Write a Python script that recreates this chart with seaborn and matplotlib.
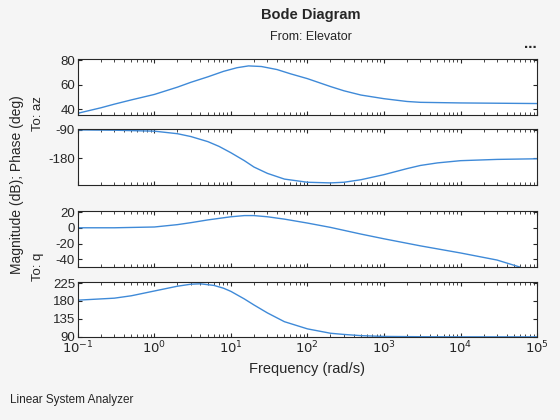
import matplotlib
matplotlib.use("Agg")
import matplotlib.pyplot as plt
import seaborn as sns
import pandas as pd
import numpy as np

sns.set_style("ticks")
plt.rcParams['font.family'] = ['Liberation Sans', 'DejaVu Sans']

w_az_mag = [0.1, 0.2, 0.3, 0.5, 1, 2, 3, 5, 8, 12, 17, 25, 40, 60, 100, 200, 300, 500, 1000, 2000, 3000, 1e4, 1e5]
az_mag = [36.5, 41, 44, 47.5, 52, 58, 62, 66.5, 71, 74, 75.5, 75, 72.5, 69, 65, 58.5, 55, 51.5, 48.5, 46.2, 45.5, 45, 44.5]
w_az_ph = [0.1, 0.3, 1, 2, 3, 5, 7, 10, 15, 20, 30, 50, 100, 200, 300, 500, 1000, 2000, 3000, 5000, 1e4, 3e4, 1e5]
az_ph = [-91, -92, -95, -103, -112, -128, -143, -163, -188, -208, -228, -246, -256, -258, -256, -248, -232, -213, -203, -195, -188, -184, -182]
w_q_mag = [0.1, 0.3, 1, 2, 3, 5, 10, 15, 20, 30, 50, 100, 200, 500, 1000, 3000, 1e4, 3e4, 6e4]
q_mag = [0, 0, 1, 4, 6.5, 10, 14, 15.5, 15.5, 14, 11, 6, 0.5, -8, -14, -23, -32, -41, -50]
w_q_ph = [0.1, 0.3, 0.5, 1, 2, 3, 4, 6, 8, 10, 15, 20, 30, 50, 100, 200, 300, 500, 1000, 3000, 1e4, 1e5]
q_ph = [182, 187, 193, 205, 217, 222, 223, 219, 212, 204, 185, 170, 150, 128, 110, 99, 96, 93, 91, 90.3, 90, 90]

bg = '#f5f5f5'
col = '#3f8ad8'
fig = plt.figure(figsize=(5.6, 4.2), dpi=100, facecolor=bg)
L, W = 0.139, 0.82
specs = [
    (0.726, 0.133, w_az_mag, az_mag, (35, 81), [40, 60, 80], ['40', '60', '80']),
    (0.560, 0.133, w_az_ph, az_ph, (-264, -88), [-180, -90], ['-180', '-90']),
    (0.364, 0.133, w_q_mag, q_mag, (-50, 21), [-40, -20, 0, 20], ['-40', '-20', '0', '20']),
    (0.198, 0.131, w_q_ph, q_ph, (90, 228), [90, 135, 180, 225], ['90', '135', '180', '225']),
]
axes = []
for i, (b, h, wx, yv, yl, yt, ytl) in enumerate(specs):
    ax = fig.add_axes([L, b, W, h])
    df = pd.DataFrame({'w': wx, 'v': yv})
    sns.lineplot(data=df, x='w', y='v', ax=ax, color=col, lw=1.0)
    ax.set_xscale('log')
    ax.set_xlim(0.1, 1e5)
    ax.set_ylim(*yl)
    ax.set_yticks(yt)
    ax.set_yticklabels(ytl)
    ax.set_xlabel('')
    ax.set_ylabel('')
    ax.tick_params(direction='in', top=True, right=True, which='both', labelsize=9.5, colors='#262626', length=3, pad=2)
    ax.tick_params(which='minor', length=2)
    for s in ax.spines.values():
        s.set_color('#262626'); s.set_linewidth(0.8)
    if i < 3:
        ax.set_xticklabels([])
    axes.append(ax)
axes[3].set_xticks([0.1, 1, 10, 100, 1e3, 1e4, 1e5])
axes[3].set_xticklabels([r'$10^{-1}$', r'$10^{0}$', r'$10^{1}$', r'$10^{2}$', r'$10^{3}$', r'$10^{4}$', r'$10^{5}$'])
axes[3].set_xlabel('Frequency (rad/s)', fontsize=10.5, color='#262626')

fig.text(0.555, 0.955, 'Bode Diagram', ha='center', fontsize=10.5, fontweight='bold', color='#262626')
fig.text(0.555, 0.905, 'From: Elevator', ha='center', fontsize=9, color='#262626')
fig.text(0.958, 0.885, '...', ha='right', fontsize=11, color='#262626', fontweight='bold')
fig.text(0.03, 0.56, 'Magnitude (dB); Phase (deg)', rotation=90, ha='center', va='center', fontsize=10, color='#262626')
fig.text(0.068, 0.73, 'To: az', rotation=90, ha='center', va='center', fontsize=9.5, color='#262626')
fig.text(0.068, 0.365, 'To: q', rotation=90, ha='center', va='center', fontsize=9.5, color='#262626')
fig.text(0.018, 0.04, 'Linear System Analyzer', fontsize=8.5, color='#262626')
fig.savefig('out.png', dpi=100, facecolor=bg)
